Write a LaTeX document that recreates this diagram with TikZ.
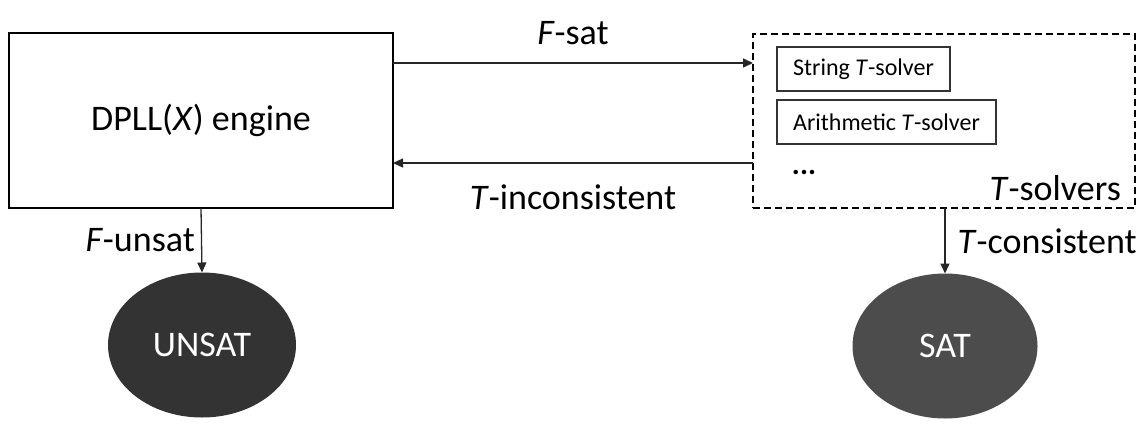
\documentclass[tikz,border=0pt]{standalone}
\usepackage{fontspec}
\setmainfont{Carlito}
\usetikzlibrary{arrows.meta,shapes.geometric}
\begin{document}
\begin{tikzpicture}[x=1pt,y=-1pt,
  bigbox/.style={draw=black,line width=2pt,inner sep=0pt,outer sep=0pt,minimum width=384pt,minimum height=175pt,font=\fontsize{36}{40}\selectfont},
  dashbox/.style={draw=black,line width=2pt,dash pattern=on 7pt off 4pt,inner sep=0pt,outer sep=0pt,minimum width=382pt,minimum height=174pt},
  solverbox/.style={draw=black!80,line width=1.3pt,inner sep=0pt,outer sep=0pt,minimum height=44pt,font=\fontsize{24}{27}\selectfont},
  lbl/.style={font=\fontsize{36}{40}\selectfont,inner sep=0pt},
  result/.style={ellipse,inner sep=0pt,outer sep=0pt,text=white,font=\fontsize{36}{40}\selectfont},
  arr/.style={line width=1.3pt,draw=black!85,-{Triangle[length=10pt,width=9pt]}}
]
\useasboundingbox (0,0) rectangle (1147,423);
\node[bigbox] (dpll) at (201,120.5) {DPLL(\textit{X}) engine};
\node[dashbox] (ts) at (944,121) {};
\node[solverbox,minimum width=173pt] (str) at (863.5,69) {String \textit{T}-solver};
\node[solverbox,minimum width=219pt] (ari) at (886.5,122) {Arithmetic \textit{T}-solver};
\node[font=\fontsize{30}{32}\selectfont\bfseries,inner sep=0pt] (dots) at (804,172) {...};
\node[lbl,anchor=east] (tsl) at (1121,188) {\textit{T}-solvers};
\node[result,fill=black!80,minimum width=188pt,minimum height=145pt] (unsat) at (202,345) {UNSAT};
\node[result,fill=black!70,minimum width=185pt,minimum height=145pt] (sat) at (945,346) {SAT};
\draw[arr] ([yshift=57.5pt]dpll.east) -- ([yshift=57.5pt]dpll.east -| ts.west)
  node[lbl,midway,above=18pt] (fsat) {\textit{F}-sat};
\draw[arr] ([yshift=-42.5pt]dpll.east -| ts.west) -- ([yshift=-42.5pt]dpll.east)
  node[lbl,midway,below=21pt] (tinc) {\textit{T}-inconsistent};
\draw[arr] (dpll.south) -- (unsat.north)
  node[lbl,midway,left=6pt] (funsat) {\textit{F}-unsat};
\draw[arr] (ts.south -| sat.north) -- (sat.north)
  node[lbl,midway,right=12pt] (tcons) {\textit{T}-consistent};
\end{tikzpicture}
\end{document}
